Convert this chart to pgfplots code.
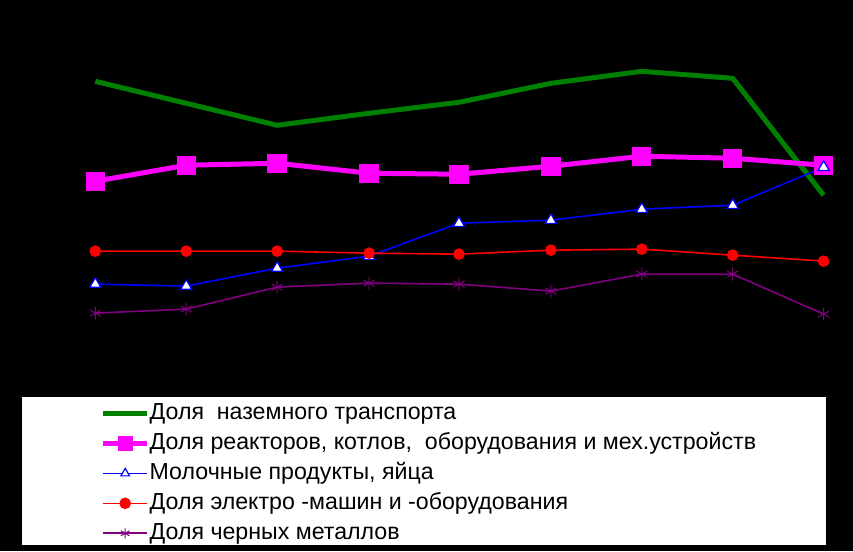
\documentclass[border=0pt]{standalone}
\usepackage{fontspec}
\setmainfont{Liberation Sans}
\usepackage{pgfplots}
\pgfplotsset{compat=1.18}
\definecolor{cgreen}{RGB}{0,128,0}
\definecolor{cmag}{RGB}{255,0,255}
\definecolor{cblue}{RGB}{0,0,255}
\definecolor{cred}{RGB}{255,0,0}
\definecolor{cpurple}{RGB}{128,0,128}
\begin{document}
\begin{tikzpicture}
\begin{axis}[
  scale only axis, width=426.5pt, height=275.5pt,
  xmin=0, xmax=853, ymin=0, ymax=551,
  axis background/.style={fill=black},
  axis line style={black}, ticks=none,
  clip=false,
  legend image code/.code={\draw[mark repeat=2,mark phase=2] plot coordinates {(0pt,0pt) (11pt,0pt) (22pt,0pt)};},
  legend image post style={mark size=2.5pt},
  legend cell align=left,
  legend style={at={(axis cs:100,153)}, anchor=north west, draw=none, fill=none, inner sep=0pt,
    font=\fontsize{11.6}{13}\selectfont, row sep=0pt, column sep=0pt,
    nodes={text height=8.8pt, text depth=2.9pt, inner ysep=1.65pt, inner xsep=0pt}},
]
\fill[white] (axis cs:22,6) rectangle (axis cs:826,154);
\addplot[cgreen, line width=2.5pt, line join=round, no markers] coordinates {
(95,470) (186,448) (277,426) (369,438) (459,449) (551,468) (642,480) (733,473) (824,356)};
\addlegendentry{Доля\ \ наземного транспорта}
\addplot[cmag, line width=2.5pt, mark=square*, mark size=3.6pt, mark options={solid}] coordinates {
(95,370) (186,386) (277,388) (369,378) (459,377) (551,385) (642,395) (733,393) (824,386)};
\addlegendentry{Доля реакторов, котлов,\ \ оборудования и мех.устройств}
\addplot[cblue, line width=0.8pt, mark=triangle*, mark size=3.2pt, mark options={fill=white, draw=cblue, line width=0.6pt}] coordinates {
(95,267) (186,265) (277,283) (369,295) (459,328) (551,331) (642,342) (733,346) (824,384)};
\addlegendentry{Молочные продукты, яйца}
\addplot[cred, line width=0.8pt, mark=*, mark size=2.5pt] coordinates {
(95,300) (186,300) (277,300) (369,298) (459,297) (551,301) (642,302) (733,296) (824,290)};
\addlegendentry{Доля электро -машин и -оборудования}
\addplot[cpurple, line width=0.8pt, mark=asterisk, mark size=3.2pt, mark options={line width=0.5pt}] coordinates {
(95,238) (186,242) (277,264) (369,268) (459,267) (551,260) (642,277) (733,277) (824,237)};
\addlegendentry{Доля черных металлов}
\end{axis}
\end{tikzpicture}
\end{document}
